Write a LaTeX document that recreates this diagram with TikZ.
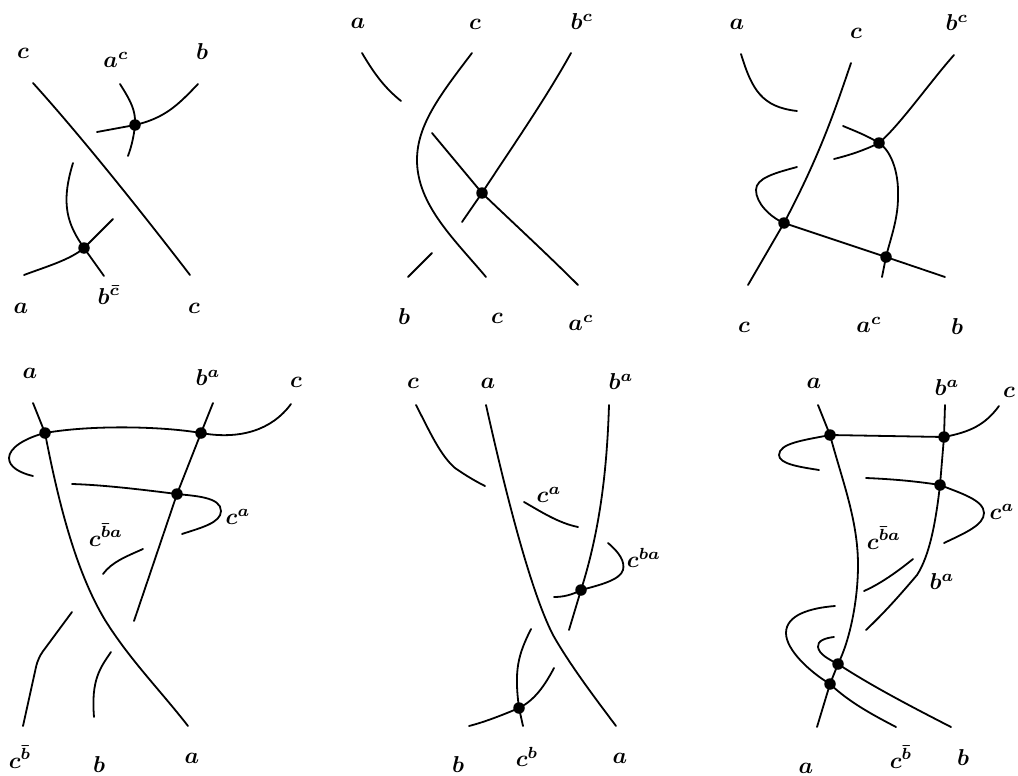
\documentclass[tikz,border=0pt]{standalone}
\usepackage{amsmath,amssymb}
\usepackage{xcolor}
\usepackage{tikz}

\tikzset{
  strand/.style={line width=1.8pt, line cap=round, line join=round},
  crossing/.style={circle, fill=black, inner sep=0pt, minimum size=11.5pt},
  lab/.style={scale=2.3, inner sep=0pt, font=\boldmath}
}

\begin{document}
\begin{tikzpicture}[x=1pt,y=-1pt]
  \useasboundingbox (0,0) rectangle (1018,776);

  % Top left
  \node[crossing] (p1) at (135,125) {};
  \node[crossing] (p2) at (84,248) {};
  \draw[strand] (33,83) .. controls (80,135) and (140,210) .. (190,275);
  \draw[strand] (97,132) -- (p1.center) .. controls (165,118) and (178,105) .. (198,84);
  \draw[strand] (120,84) .. controls (130,100) and (136,110) .. (p1.center) .. controls (134,135) and (132,145) .. (128,156);
  \draw[strand] (73,163) .. controls (60,205) and (68,225) .. (p2.center) -- (104,276);
  \draw[strand] (24,275) .. controls (45,267) and (70,260) .. (p2.center) -- (113,219);
  \node[lab] (l1) at (23,53) {$c$};
  \node[lab] (l2) at (116,60) {$a^c$};
  \node[lab] (l3) at (202,52) {$b$};
  \node[lab] (l4) at (21,308) {$a$};
  \node[lab] (l5) at (109,295) {$b^{\bar c}$};
  \node[lab] (l6) at (194,308) {$c$};

  % Top middle
  \node[crossing] (q1) at (482,193) {};
  \draw[strand] (362,53) .. controls (375,75) and (385,88) .. (401,101);
  \draw[strand] (472,53) .. controls (440,95) and (417,125) .. (417,160) .. controls (417,205) and (455,240) .. (486,277);
  \draw[strand] (571,53) .. controls (545,100) and (510,150) .. (q1.center) -- (462,222);
  \draw[strand] (432,133) -- (q1.center) .. controls (510,220) and (545,252) .. (578,285);
  \draw[strand] (432,253) -- (408,277);
  \node[lab] (m1) at (358,23) {$a$};
  \node[lab] (m2) at (475,24) {$c$};
  \node[lab] (m3) at (582,22) {$b^c$};
  \node[lab] (m4) at (404,317) {$b$};
  \node[lab] (m5) at (497,318) {$c$};
  \node[lab] (m6) at (581,323) {$a^c$};

  % Top right
  \node[crossing] (r1) at (879,143) {};
  \node[crossing] (r2) at (784,223) {};
  \node[crossing] (r3) at (886,257) {};
  \draw[strand] (741,54) .. controls (752,90) and (762,107) .. (797,111);
  \draw[strand] (851,63) .. controls (835,110) and (820,155) .. (r2.center) -- (748,285);
  \draw[strand] (954,55) .. controls (930,82) and (900,125) .. (r1.center) .. controls (865,150) and (850,155) .. (834,159);
  \draw[strand] (843,126) .. controls (855,131) and (868,136) .. (r1.center) .. controls (890,150) and (899,170) .. (898,197) .. controls (898,220) and (890,240) .. (r3.center) -- (882,277);
  \draw[strand] (797,167) .. controls (775,173) and (756,178) .. (756,190) .. controls (756,203) and (770,217) .. (r2.center) -- (r3.center) -- (945,277);
  \node[lab] (n1) at (737,24) {$a$};
  \node[lab] (n2) at (856,33) {$c$};
  \node[lab] (n3) at (957,23) {$b^c$};
  \node[lab] (n4) at (744,327) {$c$};
  \node[lab] (n5) at (869,325) {$a^c$};
  \node[lab] (n6) at (957,327) {$b$};

  % Bottom left
  \node[crossing] (s1) at (45,433) {};
  \node[crossing] (s2) at (201,433) {};
  \node[crossing] (s3) at (177,494) {};
  \draw[strand] (33,403) -- (s1.center) .. controls (58,500) and (75,570) .. (105,620) .. controls (130,660) and (160,690) .. (188,726);
  \draw[strand] (213,403) -- (s2.center) -- (s3.center) -- (134,621);
  \draw[strand] (291,404) .. controls (272,430) and (240,440) .. (s2.center) .. controls (160,426) and (90,425) .. (s1.center) .. controls (25,438) and (9,448) .. (9,458) .. controls (9,467) and (20,473) .. (33,476);
  \draw[strand] (72,484) .. controls (105,485) and (145,490) .. (s3.center) .. controls (195,496) and (221,497) .. (221,511) .. controls (221,523) and (200,528) .. (182,534);
  \draw[strand] (143,549) .. controls (125,557) and (112,562) .. (103,574);
  \draw[strand, rounded corners=8pt] (72,612) -- (38,658) -- (23,726);
  \draw[strand] (111,652) .. controls (100,668) and (91,680) .. (94,717);
  \node[lab] (t1) at (30,373) {$a$};
  \node[lab] (t2) at (208,378) {$b^a$};
  \node[lab] (t3) at (296,382) {$c$};
  \node[lab] (t4) at (238,517) {$c^a$};
  \node[lab] (t5) at (106,535) {$c^{\bar b a}$};
  \node[lab] (t6) at (20,757) {$c^{\bar b}$};
  \node[lab] (t7) at (99,765) {$b$};
  \node[lab] (t8) at (192,758) {$a$};

  % Bottom middle
  \node[crossing] (u1) at (581,590) {};
  \node[crossing] (u2) at (519,708) {};
  \draw[strand] (416,405) .. controls (430,432) and (440,455) .. (455,468) .. controls (465,475) and (475,481) .. (485,486);
  \draw[strand] (486,405) .. controls (505,490) and (530,590) .. (553,635) .. controls (570,665) and (595,698) .. (616,726);
  \draw[strand] (609,405) .. controls (607,470) and (600,530) .. (u1.center) -- (569,630);
  \draw[strand] (524,502) .. controls (540,511) and (558,523) .. (578,527);
  \draw[strand] (608,543) .. controls (620,553) and (625,562) .. (623,570) .. controls (620,580) and (600,585) .. (u1.center) .. controls (572,595) and (563,597) .. (554,597);
  \draw[strand] (531,629) .. controls (518,655) and (514,670) .. (u2.center) -- (523,726);
  \draw[strand] (469,726) .. controls (485,722) and (505,714) .. (u2.center) .. controls (535,700) and (545,685) .. (554,668);
  \node[lab] (v1) at (413,383) {$c$};
  \node[lab] (v2) at (488,383) {$a$};
  \node[lab] (v3) at (621,382) {$b^a$};
  \node[lab] (v4) at (549,495) {$c^a$};
  \node[lab] (v5) at (644,558) {$c^{ba}$};
  \node[lab] (v6) at (458,765) {$b$};
  \node[lab] (v7) at (527,757) {$c^b$};
  \node[lab] (v8) at (620,758) {$a$};

  % Bottom right
  \node[crossing] (w1) at (830,435) {};
  \node[crossing] (w2) at (944,437) {};
  \node[crossing] (w3) at (940,485) {};
  \node[crossing] (w4) at (838,664) {};
  \node[crossing] (w5) at (830,684) {};
  \draw[strand] (818,405) -- (w1.center) .. controls (842,480) and (858,520) .. (858,565) .. controls (858,600) and (850,640) .. (w4.center) -- (w5.center) -- (817,727);
  \draw[strand] (945,405) -- (w2.center) -- (w3.center) .. controls (936,520) and (930,555) .. (917,575) .. controls (900,595) and (885,612) .. (866,630);
  \draw[strand] (999,406) .. controls (985,425) and (970,432) .. (w2.center) -- (w1.center) .. controls (805,440) and (779,443) .. (779,455) .. controls (779,464) and (800,467) .. (819,470);
  \draw[strand] (866,478) .. controls (890,479) and (915,481) .. (w3.center) .. controls (960,493) and (984,500) .. (984,513) .. controls (984,525) and (965,533) .. (944,543);
  \draw[strand] (913,559) .. controls (897,572) and (880,584) .. (864,591);
  \draw[strand] (835,606) .. controls (810,608) and (786,615) .. (786,633) .. controls (786,650) and (810,672) .. (w5.center) .. controls (850,703) and (875,716) .. (896,727);
  \draw[strand] (834,637) .. controls (825,638) and (817,641) .. (818,647) .. controls (819,654) and (828,659) .. (w4.center) .. controls (870,685) and (910,706) .. (951,727);
  \node[lab] (x1) at (814,383) {$a$};
  \node[lab] (x2) at (947,388) {$b^a$};
  \node[lab] (x3) at (1009,392) {$c$};
  \node[lab] (x4) at (1002,512) {$c^a$};
  \node[lab] (x5) at (884,538) {$c^{\bar b a}$};
  \node[lab] (x6) at (942,582) {$b^a$};
  \node[lab] (x7) at (901,757) {$c^{\bar b}$};
  \node[lab] (x8) at (963,758) {$b$};
  \node[lab] (x9) at (806,768) {$a$};
\end{tikzpicture}
\end{document}
